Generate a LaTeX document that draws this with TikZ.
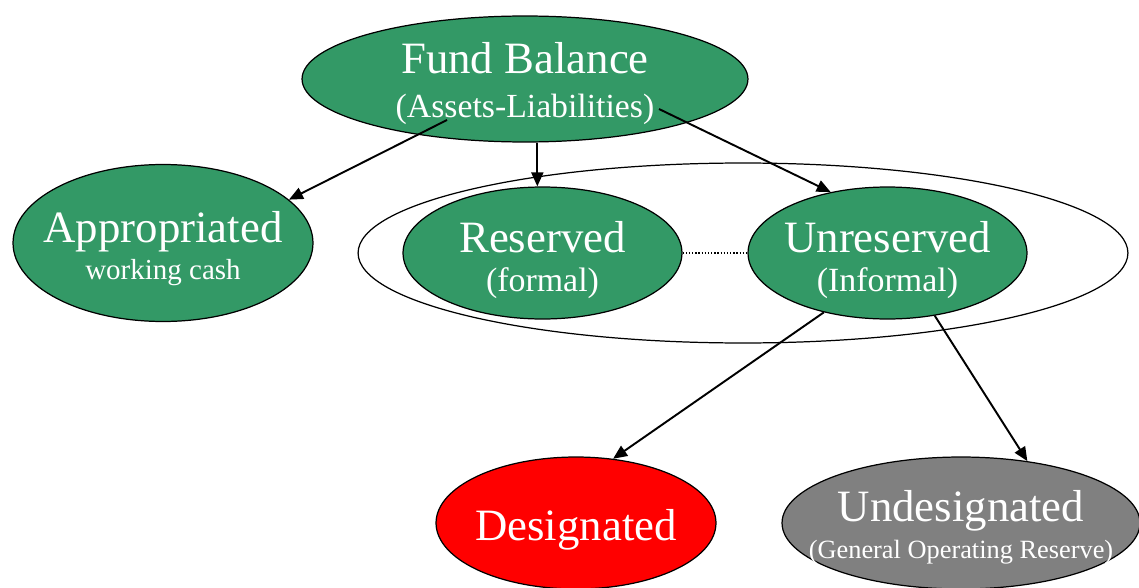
\documentclass[tikz,border=0pt]{standalone}
\usepackage{fontspec}
\setmainfont{Liberation Serif}
\usetikzlibrary{arrows.meta,shapes.geometric}
\definecolor{fbGreen}{HTML}{339966}
\definecolor{fbRed}{HTML}{FF0000}
\definecolor{fbGray}{HTML}{808080}
\tikzset{
  fbnode/.style={ellipse,draw=black,line width=0.7pt,inner xsep=-20pt,inner ysep=-12pt,
    text=white,align=center,font=\fontsize{25.5}{22}\selectfont},
  fbgreen/.style={fbnode,fill=fbGreen},
  fbgroup/.style={ellipse,draw=black,line width=0.7pt,minimum width=15.4cm,minimum height=3.6cm},
  arrow/.style={-{Triangle[length=0.28cm,width=0.24cm]},line width=1.1pt}
}
\newcommand{\fbstrut}[1]{\rule{0pt}{#1}}

\begin{document}
\begin{tikzpicture}[x=0.02cm,y=-0.02cm]
  \clip (0,0) rectangle (1139,588);
  \node[fbgroup] (grp) at (743,253) {};
  \node[fbgreen, minimum width=8.92cm, minimum height=2.52cm] (fund) at (525,79)
    {\fbstrut{23pt}Fund Balance\\[3pt]{\fontsize{19.2}{22}\selectfont (Assets-Liabilities)}};
  \node[fbgreen, minimum width=6.0cm, minimum height=3.14cm] (approp) at (163,243)
    {\fbstrut{24pt}Appropriated\\[-1pt]{\fontsize{16.5}{20}\selectfont working cash}};
  \node[fbgreen, minimum width=5.58cm, minimum height=2.64cm] (res) at (542.5,253)
    {\fbstrut{26pt}Reserved\\{\fontsize{19.3}{22}\selectfont (formal)}};
  \node[fbgreen, minimum width=5.58cm, minimum height=2.64cm] (unres) at (887.5,253)
    {\fbstrut{26pt}Unreserved\\{\fontsize{19.3}{22}\selectfont (Informal)}};
  \node[fbnode, fill=fbRed, minimum width=5.6cm, minimum height=2.64cm] (desig) at (576,523)
    {\fbstrut{25.5pt}Designated};
  \node[fbnode, fill=fbGray, minimum width=7.16cm, minimum height=2.64cm] (undes) at (961,523)
    {\fbstrut{23pt}Undesignated\\[-1pt]{\fontsize{15}{18}\selectfont (General Operating Reserve)}};
  \coordinate (fbL) at (447,120);
  \coordinate (fbR) at (659,109);
  \draw[arrow] (fbL) -- (approp.19);
  \draw[arrow] (fund.281) -- (fund.281 |- res.north);
  \draw[arrow] (fbR) -- (unres.133);
  \draw[line width=0.8pt, densely dotted] (res) -- (unres);
  \draw[arrow] (unres.223) -- (desig.60);
  \draw[arrow] (unres.-53) -- (undes.43);
\end{tikzpicture}
\end{document}
